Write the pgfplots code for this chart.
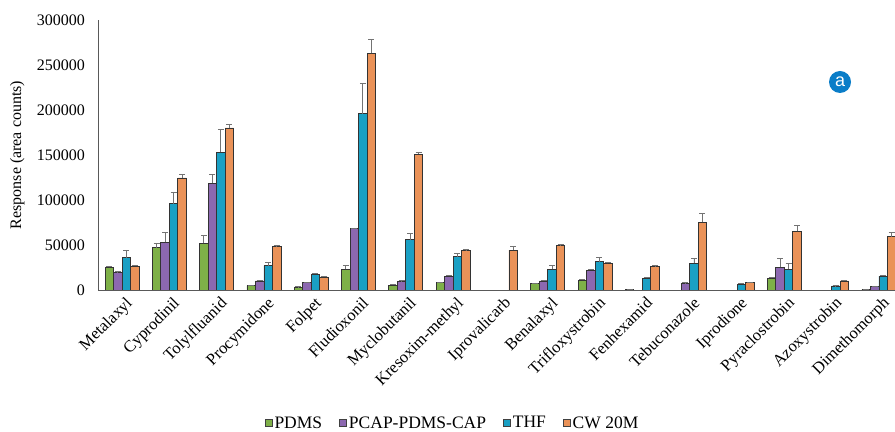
\documentclass[border=0pt]{standalone}
\usepackage{pgfplots}
\usepackage{pgfplotstable}
\pgfplotsset{compat=1.18}
\usepackage{fontspec}
\setmainfont{Liberation Serif}
\newfontfamily\sansf{Liberation Sans}
\definecolor{cpdms}{RGB}{126,176,72}
\definecolor{cpcap}{RGB}{140,104,176}
\definecolor{cthf}{RGB}{26,160,196}
\definecolor{ccw}{RGB}{234,146,88}
\definecolor{ablue}{RGB}{10,125,200}

\pgfplotstableread{
x y e
0 25000 1500
1 47000 4500
2 51800 9000
3 4800 800
4 3000 500
5 23000 4000
6 5500 800
7 8000 800
9 7000 800
10 11000 1000
11 600 0
14 13000 1000
16 800 0
}\pdms
\pgfplotstableread{
x y e
0 19000 1500
1 53000 11000
2 118500 10000
3 10000 800
4 8000 800
5 68000 1000
6 9500 800
7 15500 1000
9 10000 800
10 22000 1000
12 7000 1000
14 25000 10500
16 3500 500
}\pcap
\pgfplotstableread{
x y e
0 36000 8000
1 96000 13000
2 153000 25500
3 27000 4000
4 17500 1000
5 196000 33000
6 56000 6500
7 37000 3500
9 23000 4500
10 31500 5000
11 13000 1000
12 29500 6000
13 6500 1000
14 23000 6500
15 4500 500
16 15500 1000
}\thf
\pgfplotstableread{
x y e
0 26500 1000
1 124500 4000
2 180000 4000
3 48000 2000
4 14500 800
5 263000 15000
6 151000 1500
7 43500 1500
8 44400 4000
9 49000 1500
10 29500 1500
11 26000 1500
12 75000 10000
13 8000 1000
14 65000 6500
15 10000 1000
16 59000 5000
}\cw

\begin{document}
\begin{tikzpicture}[font=\fontsize{16bp}{19bp}\selectfont]
\path[use as bounding box] (0,0) rectangle (895bp,432bp);
\begin{axis}[
  at={(98.35bp,142bp)}, anchor=south west,
  scale only axis, width=796.65bp, height=270bp,
  xmin=-0.5, xmax=16.34, ymin=0, ymax=300000,
  ybar=0pt, bar width=8.5bp,
  axis x line=bottom, axis y line=left,
  axis line style={-, draw=black!65, line width=1bp},
  major tick length=0pt,
  xtick={0,...,16},
  xticklabels={Metalaxyl,Cyprodinil,Tolylfluanid,Procymidone,Folpet,Fludioxonil,Myclobutanil,Kresoxim-methyl,Iprovalicarb,Benalaxyl,Trifloxystrobin,Fenhexamid,Tebuconazole,Iprodione,Pyraclostrobin,Azoxystrobin,Dimethomorph},
  xticklabel style={rotate=45, anchor=north east, inner sep=1bp, yshift=-5bp, xshift=-1bp, font=\fontsize{16.5bp}{19bp}\selectfont},
  ytick={0,50000,100000,150000,200000,250000,300000},
  scaled y ticks=false,
  /pgf/number format/.cd, 1000 sep={}, fixed, assume math mode=true,
  /pgfplots/.cd,
  yticklabel style={xshift=-10bp},
  ylabel={Response (area counts)},
  ylabel style={at={(axis description cs:-0.1017,0.5)}, anchor=center},
  legend columns=4,
  legend style={at={(0.4446,-0.4926)}, anchor=center, draw=none, fill=none,
    font=\fontsize{17.5bp}{19bp}\selectfont,
    /tikz/every even column/.append style={column sep=15bp}},
  legend image code/.code={\draw[#1,draw=black!75,line width=0.8bp] (0bp,-3.5bp) rectangle (7bp,3.5bp);},
  error bars/error bar style={draw=black!55, line width=0.8bp},
  error bars/error mark options={rotate=90, mark size=3bp, draw=black!55, line width=0.8bp},
]
\addplot[fill=cpdms, draw=black!80, line width=0.8bp, error bars/.cd, y dir=plus, y explicit] table[x=x,y=y,y error=e]{\pdms};
\addplot[fill=cpcap, draw=black!80, line width=0.8bp, error bars/.cd, y dir=plus, y explicit] table[x=x,y=y,y error=e]{\pcap};
\addplot[fill=cthf, draw=black!80, line width=0.8bp, error bars/.cd, y dir=plus, y explicit] table[x=x,y=y,y error=e]{\thf};
\addplot[fill=ccw, draw=black!80, line width=0.8bp, error bars/.cd, y dir=plus, y explicit] table[x=x,y=y,y error=e]{\cw};
\legend{PDMS,PCAP-PDMS-CAP,THF,CW 20M}
\end{axis}
\node[circle, fill=ablue, text=white, minimum size=22bp, inner sep=0pt, font=\sansf\fontsize{18bp}{18bp}\selectfont] at (840bp,350bp) {a};
\end{tikzpicture}
\end{document}
